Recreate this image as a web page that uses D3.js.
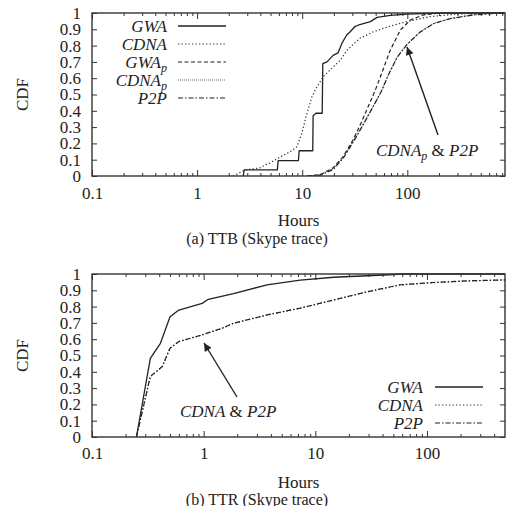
<!DOCTYPE html>
<html><head><meta charset="utf-8">
<script src="https://cdn.jsdelivr.net/npm/d3@7"></script>
<style>
body{margin:0;background:#fff}
svg{display:block}
svg text{font-family:"Liberation Serif",serif;fill:#222}
</style></head><body>
<svg id="c" width="514" height="506"></svg>
<script>
// ---------- data ----------
const yTicks = [0,0.1,0.2,0.3,0.4,0.5,0.6,0.7,0.8,0.9,1];
const yTickLabels = ["0","0.1","0.2","0.3","0.4","0.5","0.6","0.7","0.8","0.9","1"];
const xTicks = [0.1,1,10,100];
const xTickLabels = ["0.1","1","10","100"];

// (a) TTB
const a_gwa_h   = [2.75,2.8,5.8,5.9,9.2,9.35,12.6,12.7,13.5,15.5,15.7,17.2,19.7,21.9,23.9,26.5,28.6,31.6,34,44.5,51.6,68.9,99,206,850];
const a_gwa_c   = [0,0.037,0.037,0.094,0.094,0.155,0.155,0.37,0.385,0.385,0.69,0.70,0.74,0.755,0.815,0.865,0.885,0.916,0.925,0.947,0.973,0.985,0.993,1,1];
const a_cdna_h  = [2.2,2.86,3.98,4.5,4.95,6.2,7.7,8.9,9.9,11.1,12.4,13.8,15.9,18.4,23,26.5,35.4,47.6,68.9,99,165,295,494,850];
const a_cdna_c  = [0,0.037,0.05,0.07,0.08,0.118,0.149,0.18,0.26,0.385,0.487,0.548,0.61,0.65,0.71,0.77,0.845,0.885,0.92,0.947,0.978,0.993,1,1];
const a_gwap_h  = [11.2,14.8,19.7,24.6,30.7,36.6,42.7,49.8,55.5,68.9,86,107,142,206,850];
const a_gwap_c  = [0,0.008,0.05,0.12,0.225,0.33,0.43,0.53,0.61,0.773,0.896,0.957,0.988,1,1];
const a_cdnap_h = [11.2,14.8,19.7,24.6,30.7,38.3,46.6,56.7,66,80,99.6,133,178,255,420,715,850];
const a_cdnap_c = [0,0.006,0.045,0.115,0.215,0.32,0.42,0.52,0.62,0.73,0.81,0.885,0.936,0.966,0.988,1,1];
const a_p2p_h   = [11.2,14.8,19.7,24.6,30.7,38.3,46.6,56.7,66,80,99.6,133,178,255,420,715,850];
const a_p2p_c   = [0,0.005,0.04,0.11,0.21,0.318,0.418,0.52,0.62,0.728,0.808,0.884,0.935,0.965,0.988,0.999,1];

// (b) TTR
const b_gwa_h  = [0.25,0.333,0.41,0.50,0.60,0.97,1.10,1.85,3.69,7.33,14.6,41,60,500];
const b_gwa_c  = [0,0.483,0.575,0.738,0.779,0.82,0.845,0.88,0.933,0.963,0.98,0.994,1,1];
const b_cdna_h = [0.25,0.333,0.425,0.50,0.60,0.97,1.47,1.85,3.69,7.33,14.6,29.1,57.8,115,229,500];
const b_cdna_c = [0,0.37,0.43,0.544,0.585,0.626,0.667,0.697,0.748,0.79,0.84,0.89,0.933,0.947,0.957,0.963];
const b_p2p_h  = [0.25,0.333,0.425,0.50,0.60,0.97,1.47,1.85,3.69,7.33,14.6,29.1,57.8,115,229,500];
const b_p2p_c  = [0,0.372,0.432,0.545,0.586,0.627,0.668,0.698,0.749,0.791,0.841,0.891,0.934,0.948,0.958,0.964];

const zip = (h,c) => h.map((v,i)=>[v,c[i]]);

// ---------- styles ----------
const FONT = "'Liberation Serif',serif";
const STY = {
  GWA:   {dash:null, color:"#222", w:1.3},
  CDNA:  {dash:"1.3,2.2", color:"#333", w:1.2},
  GWAp:  {dash:"4,2.5", color:"#222", w:1.2},
  CDNAp: {dash:"1,1", color:"#666", w:1.1},
  P2P:   {dash:"5,2,1.5,2", color:"#222", w:1.2}
};

const svg = d3.select("#c");
const defs = svg.append("defs");
defs.append("marker").attr("id","ah").attr("viewBox","0 0 10 10").attr("refX",10).attr("refY",5)
  .attr("markerWidth",11).attr("markerHeight",8).attr("markerUnits","userSpaceOnUse").attr("orient","auto")
  .append("path").attr("d","M0,0L10,5L0,10z").attr("fill","#222");

function panel(cfg){
  const {left,right,top,bottom,xmax} = cfg;
  const x = d3.scaleLog().domain([0.1,xmax]).range([left,right]);
  const y = d3.scaleLinear().domain([0,1]).range([bottom,top]);
  const g = svg.append("g").attr("font-family",FONT);

  const minors = [];
  for (let d=0.1; d<xmax; d*=10) for (let k=2;k<10;k++){ const v=d*k; if (v<xmax) minors.push(+v.toPrecision(3)); }
  const fmtX = d => xTickLabels[xTicks.indexOf(d)];
  const fmtY = d => yTickLabels[yTicks.indexOf(d)];

  const styleAx = s => { s.attr("font-family",FONT).attr("font-size",17);
    s.select(".domain").remove(); s.selectAll("line").attr("stroke","#333").attr("stroke-width",1);
    s.selectAll("text").attr("fill","#222"); };

  g.append("g").attr("transform",`translate(0,${bottom})`)
    .call(d3.axisBottom(x).tickValues(minors).tickSize(-3).tickFormat("")).call(styleAx);
  g.append("g").attr("transform",`translate(0,${top})`)
    .call(d3.axisTop(x).tickValues(minors).tickSize(-3).tickFormat("")).call(styleAx);
  g.append("g").attr("transform",`translate(0,${bottom})`)
    .call(d3.axisBottom(x).tickValues(xTicks).tickSize(-6).tickPadding(cfg.xpad).tickFormat(fmtX)).call(styleAx);
  g.append("g").attr("transform",`translate(0,${top})`)
    .call(d3.axisTop(x).tickValues(xTicks).tickSize(-6).tickFormat("")).call(styleAx);
  g.append("g").attr("transform",`translate(${left},0)`)
    .call(d3.axisLeft(y).tickValues(yTicks).tickSize(-5).tickPadding(11).tickFormat(fmtY)).call(styleAx);
  g.append("g").attr("transform",`translate(${right},0)`)
    .call(d3.axisRight(y).tickValues(yTicks).tickSize(-5).tickFormat("")).call(styleAx);

  const line = d3.line().x(d=>x(d[0])).y(d=>y(d[1]));
  const clip = "clip"+cfg.id;
  defs.append("clipPath").attr("id",clip).append("rect")
    .attr("x",left).attr("y",top-1).attr("width",right-left).attr("height",bottom-top+1);
  const cg = g.append("g").attr("clip-path",`url(#${clip})`);
  cfg.series.forEach(s=>{
    const st = STY[s.key];
    cg.append("path").datum(s.data).attr("d",line).attr("fill","none")
      .attr("stroke",st.color).attr("stroke-width",st.w)
      .attr("stroke-dasharray",st.dash).attr("stroke-linejoin","round");
  });

  g.append("rect").attr("x",left).attr("y",top).attr("width",right-left).attr("height",bottom-top)
    .attr("fill","none").attr("stroke","#333").attr("stroke-width",1.4);

  cfg.legend.items.forEach((it,i)=>{
    const cy = cfg.legend.y0 + i*cfg.legend.dy;
    const t = g.append("text").attr("x",cfg.legend.tx).attr("y",cy+6).attr("text-anchor","end")
      .attr("font-size",17).attr("font-style","italic");
    t.append("tspan").text(it.label);
    if (it.sub) t.append("tspan").attr("dy",4).attr("font-size",12).text(it.sub);
    const st = STY[it.key];
    g.append("line").attr("x1",cfg.legend.x1).attr("x2",cfg.legend.x2).attr("y1",cy).attr("y2",cy)
      .attr("stroke",st.color).attr("stroke-width",st.w).attr("stroke-dasharray",st.dash);
  });

  const an = cfg.annot;
  const at = g.append("text").attr("x",an.tx).attr("y",an.ty).attr("font-size",17);
  an.parts.forEach(p=>{
    const ts = at.append("tspan").text(p.t);
    if (p.it) ts.attr("font-style","italic");
    if (p.sub) ts.attr("dy",4).attr("font-size",12);
    if (p.up) ts.attr("dy",-4);
  });
  g.append("line").attr("x1",an.from[0]).attr("y1",an.from[1]).attr("x2",an.to[0]).attr("y2",an.to[1])
    .attr("stroke","#222").attr("stroke-width",1.4).attr("marker-end","url(#ah)");

  g.append("text").attr("transform",`translate(${cfg.ylx},${(top+bottom)/2}) rotate(-90)`)
    .attr("text-anchor","middle").attr("dy","0.35em").attr("font-size",17).text("CDF");
  g.append("text").attr("x",(left+right)/2).attr("y",cfg.hoursY).attr("text-anchor","middle")
    .attr("font-size",17).text("Hours");
  g.append("text").attr("x",257).attr("y",cfg.capY).attr("text-anchor","middle")
    .attr("font-size",16).attr("fill","#333").text(cfg.caption);
}

panel({id:"a", left:92, right:505, top:13, bottom:176, xmax:850, xpad:11, ylx:22,
  hoursY:226, capY:244, caption:"(a) TTB (Skype trace)",
  series:[
    {key:"GWA", data:zip(a_gwa_h,a_gwa_c)},
    {key:"CDNA", data:zip(a_cdna_h,a_cdna_c)},
    {key:"GWAp", data:zip(a_gwap_h,a_gwap_c)},
    {key:"CDNAp", data:zip(a_cdnap_h,a_cdnap_c)},
    {key:"P2P", data:zip(a_p2p_h,a_p2p_c)}
  ],
  legend:{tx:167, x1:178, x2:226, y0:26, dy:18, items:[
    {key:"GWA",label:"GWA"},{key:"CDNA",label:"CDNA"},{key:"GWAp",label:"GWA",sub:"p"},
    {key:"CDNAp",label:"CDNA",sub:"p"},{key:"P2P",label:"P2P"}]},
  annot:{tx:376, ty:156, parts:[{t:"CDNA",it:true},{t:"p",it:true,sub:true},{t:" & ",up:true},{t:"P2P",it:true}],
    from:[438,135], to:[407,47]}
});

panel({id:"b", left:92, right:505, top:274, bottom:437, xmax:500, xpad:10, ylx:22,
  hoursY:488, capY:505, caption:"(b) TTR (Skype trace)",
  series:[
    {key:"GWA", data:zip(b_gwa_h,b_gwa_c)},
    {key:"CDNA", data:zip(b_cdna_h,b_cdna_c)},
    {key:"P2P", data:zip(b_p2p_h,b_p2p_c)}
  ],
  legend:{tx:423, x1:435, x2:483, y0:387, dy:18, items:[
    {key:"GWA",label:"GWA"},{key:"CDNA",label:"CDNA"},{key:"P2P",label:"P2P"}]},
  annot:{tx:180, ty:417, parts:[{t:"CDNA",it:true},{t:" & "},{t:"P2P",it:true}],
    from:[237,397], to:[204,343]}
});
</script>
</body></html>
